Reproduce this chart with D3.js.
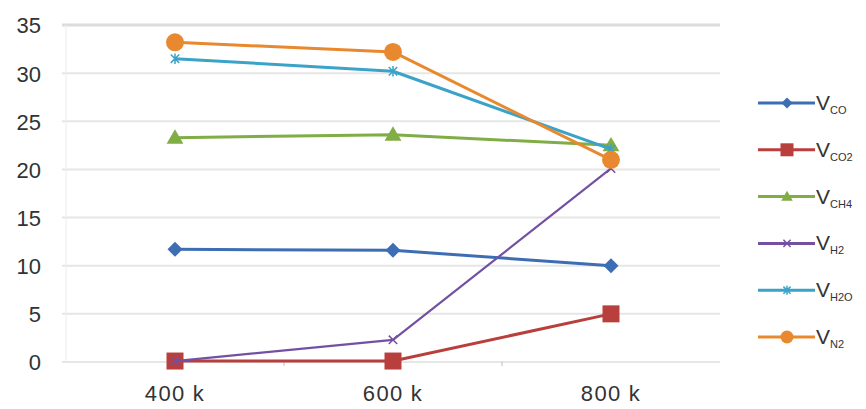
<!DOCTYPE html>
<html><head><meta charset="utf-8">
<script src="https://cdn.jsdelivr.net/npm/d3@7"></script>
<style>body{margin:0;background:#fff}svg{display:block;font-family:"Liberation Sans",Arial,sans-serif}</style>
</head><body><svg id="c" width="866" height="409"></svg>
<script>
const categories = ["400 k", "600 k", "800 k"];
const yTicks = [0, 5, 10, 15, 20, 25, 30, 35];
const seriesNames = ["CO", "CO2", "CH4", "H2", "H2O", "N2"];
const vCO  = [11.7, 11.6, 10.0];
const vCO2 = [0.1, 0.1, 5.0];
const vCH4 = [23.3, 23.6, 22.5];
const vH2  = [0.1, 2.3, 20.1];
const vH2O = [31.5, 30.2, 22.1];
const vN2  = [33.2, 32.2, 21.0];
const seriesValues = [vCO, vCO2, vCH4, vH2, vH2O, vN2];
const colors = ["#3d6db3", "#b93f3c", "#80ad45", "#7350a2", "#3ba2c8", "#e8892f"];
const markers = ["diamond", "square", "triangle", "cross", "star", "circle"];

const svg = d3.select("#c");
const x = d3.scaleBand().domain(categories).range([66, 720]);
const y = d3.scaleLinear().domain([0, 35]).range([362, 25]);

svg.append("g").selectAll("line").data(yTicks).join("line")
  .attr("x1", 62).attr("x2", 720)
  .attr("y1", d => y(d)).attr("y2", d => y(d))
  .attr("stroke", d => d === 35 ? "#dcdcdc" : "#e6e6e6")
  .attr("stroke-width", d => d === 35 ? 3 : 2);
svg.append("line").attr("x1", 66).attr("x2", 66).attr("y1", y(35)).attr("y2", y(0))
  .attr("stroke", "#ececec").attr("stroke-width", 1);

const yAxis = d3.axisLeft(y).tickValues(yTicks).tickSize(0).tickPadding(0);
const gy = svg.append("g").attr("transform", "translate(41,0)").call(yAxis);
gy.select(".domain").remove();
gy.selectAll("text").attr("font-size", 22).attr("fill", "#333").attr("dy", "0.36em");

const xAxis = d3.axisBottom(x).tickSize(0).tickPadding(0);
const gx = svg.append("g").attr("transform", "translate(0,385)").call(xAxis);
gx.select(".domain").remove();
gx.selectAll("text").attr("font-size", 22).attr("fill", "#333").attr("dy", "0.71em")
  .attr("letter-spacing", 1.3);
svg.append("g").selectAll("line").data(categories.slice(1)).join("line")
  .attr("x1", d => x(d)).attr("x2", d => x(d)).attr("y1", y(0)).attr("y2", y(0) + 4)
  .attr("stroke", "#bbb").attr("stroke-width", 1);

function markerPath(type, r) {
  switch (type) {
    case "diamond": return `M0,${-r}L${r},0L0,${r}L${-r},0Z`;
    case "square": return `M${-r},${-r}H${r}V${r}H${-r}Z`;
    case "triangle": return `M0,${-r * 1.05}L${r * 1.05},${r * 0.75}H${-r * 1.05}Z`;
    case "circle": return d3.arc()({innerRadius: 0, outerRadius: r, startAngle: 0, endAngle: 2 * Math.PI});
    case "cross": return `M${-r * 0.6},${-r * 0.6}L${r * 0.6},${r * 0.6}M${-r * 0.6},${r * 0.6}L${r * 0.6},${-r * 0.6}`;
    case "star": return `M${-r * 0.6},${-r * 0.6}L${r * 0.6},${r * 0.6}M${-r * 0.6},${r * 0.6}L${r * 0.6},${-r * 0.6}M0,${-r * 0.75}V${r * 0.75}`;
  }
}
const strokeMarkers = new Set(["cross", "star"]);
const plotSize = {diamond: 7.5, square: 8.5, triangle: 8, circle: 9, cross: 7, star: 7};
const legSize = {diamond: 5.5, square: 6.5, triangle: 5.5, circle: 6.5, cross: 6, star: 6};

const line = d3.line().x((d, i) => x(categories[i]) + x.bandwidth() / 2).y(d => y(d));

seriesValues.forEach((vals, s) => {
  const g = svg.append("g");
  g.append("path").datum(vals).attr("d", line).attr("fill", "none")
    .attr("stroke", colors[s]).attr("stroke-width", s === 3 ? 2.2 : 3).attr("stroke-linejoin", "round");
  g.selectAll("path.m").data(vals).join("path").attr("class", "m")
    .attr("transform", (d, i) => `translate(${x(categories[i]) + x.bandwidth() / 2},${y(d)})`)
    .attr("d", markerPath(markers[s], plotSize[markers[s]]))
    .attr("fill", strokeMarkers.has(markers[s]) ? "none" : colors[s])
    .attr("stroke", colors[s]).attr("stroke-width", strokeMarkers.has(markers[s]) ? 1.5 : 0);
});

const legend = svg.append("g");
seriesNames.forEach((name, s) => {
  const ly = 103 + s * 46.8;
  const g = legend.append("g").attr("transform", `translate(0,${ly})`);
  g.append("line").attr("x1", 758).attr("x2", 815).attr("y1", 0).attr("y2", 0)
    .attr("stroke", colors[s]).attr("stroke-width", 3);
  g.append("path").attr("transform", "translate(787,0)")
    .attr("d", markerPath(markers[s], legSize[markers[s]]))
    .attr("fill", strokeMarkers.has(markers[s]) ? "none" : colors[s])
    .attr("stroke", colors[s]).attr("stroke-width", strokeMarkers.has(markers[s]) ? 1.5 : 0);
  const t = g.append("text").attr("x", 816).attr("y", 7).attr("fill", "#333").attr("font-size", 21);
  t.append("tspan").text("V");
  t.append("tspan").attr("font-size", 11).attr("dy", 4).text(name);
});
</script></body></html>
